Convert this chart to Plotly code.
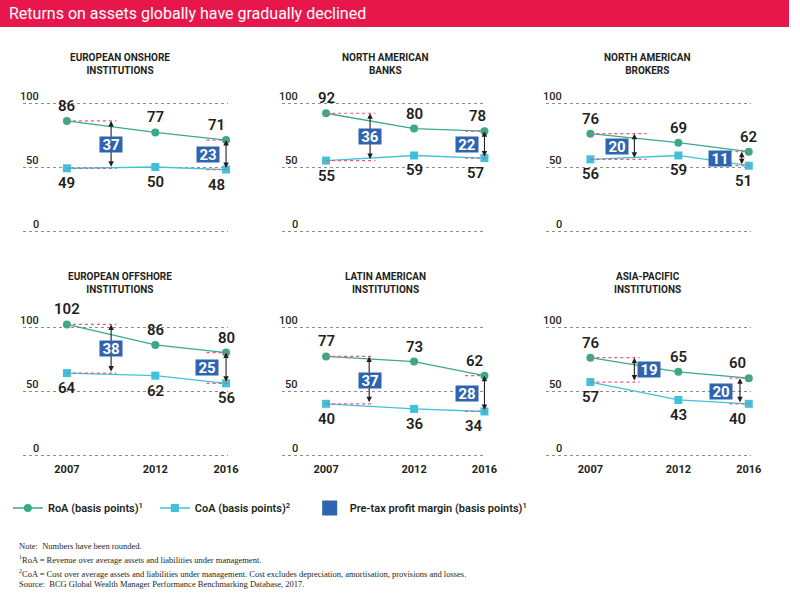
import plotly.graph_objects as go

W, H = 800, 596

# ---------------- data ----------------
YEARS = [2007, 2012, 2016]
PANEL_TITLES = [
    "EUROPEAN ONSHORE<br>INSTITUTIONS",
    "NORTH AMERICAN<br>BANKS",
    "NORTH AMERICAN<br>BROKERS",
    "EUROPEAN OFFSHORE<br>INSTITUTIONS",
    "LATIN AMERICAN<br>INSTITUTIONS",
    "ASIA-PACIFIC<br>INSTITUTIONS",
]
ROA = [
    [86, 77, 71],
    [92, 80, 78],
    [76, 69, 62],
    [102, 86, 80],
    [77, 73, 62],
    [76, 65, 60],
]
COA = [
    [49, 50, 48],
    [55, 59, 57],
    [56, 59, 51],
    [64, 62, 56],
    [40, 36, 34],
    [57, 43, 40],
]
MARGIN_2007 = [37, 36, 20, 38, 37, 19]
MARGIN_2016 = [23, 22, 11, 25, 28, 20]
Y_TICKS = [0, 50, 100]
Y_TICK_LABELS = ["0", "50", "100"]

TITLE = "Returns on assets globally have gradually declined"
LEGEND_NAMES = ["RoA (basis points)<sup>1</sup>", "CoA (basis points)<sup>2</sup>",
                "Pre-tax profit margin (basis points)<sup>1</sup>"]
FOOTNOTES = [
    "Note:  Numbers have been rounded.",
    "<sup>1</sup>RoA = Revenue over average assets and liabilities under management.",
    "<sup>2</sup>CoA = Cost over average assets and liabilities under management. Cost excludes depreciation, amortisation, provisions and losses.",
    "Source:  BCG Global Wealth Manager Performance Benchmarking Database, 2017.",
]

# ---------------- styles / positions ----------------
GREEN = "#3aa98a"
CYAN = "#3fc2d9"
BLUE = "#2f65b0"
RED = "#e8174b"
DASH = "#ec5a78"
DARK = "#231f20"
FONT = "Roboto"

COL_PX = [(23, 231), (286, 493), (554, 761)]
COL_CENTER = [122, 391, 657]
ROW_ZERO_PX = [231, 455]          # pixel of value 0
PX_PER_UNIT = 1.28
ROW_TITLE_PX = [64.5, 283]
XRANGE = [2004.5, 2016.1]

ARROW07_X = [2009.5, 2009.5, 2009.5, 2009.5, 2009.45, 2009.5]
BOX07_X = [2009.5, 2009.5, 2008.5, 2009.5, 2009.5, 2010.35]
DASH07_END = [2009.8, 2009.8, 2010.2, 2009.8, 2009.7, 2009.8]
ARROW16_X = [2016, 2016, 2015.6, 2016, 2016, 2015.5]
BOX16_X = [2015.0, 2015.0, 2014.35, 2014.9, 2015.0, 2014.45]
LBL16_SHIFT_ROA = [-10, -7, 0, 0, -10, -11]
LBL16_SHIFT_COA = [-10, -9, -5, 0, -10, -11]


def fy(px):
    return 1 - px / H


fig = go.Figure()
layout = dict(
    width=W, height=H, margin=dict(l=0, r=0, t=0, b=0),
    paper_bgcolor="white", plot_bgcolor="white",
    font=dict(family=FONT, color=DARK),
    showlegend=True,
)
annotations = []
shapes = []

# title bar
shapes.append(dict(type="rect", xref="paper", yref="paper", x0=0, x1=1, y0=fy(27), y1=1,
                   fillcolor=RED, line=dict(width=0), layer="below"))
annotations.append(dict(text=TITLE, xref="paper", yref="paper", x=7 / W, y=fy(13.5),
                        xanchor="left", yanchor="middle", showarrow=False,
                        font=dict(family=FONT, size=16, color="white")))

for i in range(6):
    row, col = divmod(i, 3)
    xn = "x" if i == 0 else f"x{i+1}"
    yn = "y" if i == 0 else f"y{i+1}"
    xa = "xaxis" if i == 0 else f"xaxis{i+1}"
    ya = "yaxis" if i == 0 else f"yaxis{i+1}"
    x0px, x1px = COL_PX[col]
    zero = ROW_ZERO_PX[row]
    ylo, yhi = -1, 112
    layout[xa] = dict(domain=[x0px / W, x1px / W], range=XRANGE, anchor=yn,
                      showgrid=False, zeroline=False, showline=False,
                      tickvals=YEARS, ticktext=[str(y) for y in YEARS], ticks="",
                      showticklabels=(row == 1), ticklabelstandoff=5,
                      tickfont=dict(family=FONT, size=11, color=DARK, weight="bold"),
                      fixedrange=True)
    layout[ya] = dict(domain=[fy(zero - ylo * PX_PER_UNIT), fy(zero - yhi * PX_PER_UNIT)],
                      range=[ylo, yhi], anchor=xn, tickvals=Y_TICKS, showticklabels=False,
                      showgrid=True, gridcolor="#8c8c8c", gridwidth=1, griddash="dot",
                      zeroline=False, showline=False, ticks="", fixedrange=True)

    for v, t in zip(Y_TICKS, Y_TICK_LABELS):
        annotations.append(dict(text=t, xref=f"{xn} domain", yref=yn, x=0, y=v,
                                xanchor="right", yanchor="bottom", xshift=18, yshift=-2,
                                showarrow=False,
                                font=dict(family=FONT, size=11, color=DARK, weight=500)))

    annotations.append(dict(text=PANEL_TITLES[i], xref="paper", yref="paper",
                            x=COL_CENTER[col] / W, y=fy(ROW_TITLE_PX[row]),
                            xanchor="center", yanchor="middle", showarrow=False,
                            font=dict(family=FONT, size=10, color=DARK, weight="bold")))

    fig.add_trace(go.Scatter(x=YEARS, y=ROA[i], xaxis=xn, yaxis=yn, mode="lines+markers",
                             line=dict(color=GREEN, width=1.3),
                             marker=dict(symbol="circle", size=8, color=GREEN),
                             cliponaxis=False, name=LEGEND_NAMES[0], legend="legend",
                             showlegend=(i == 0), hoverinfo="skip"))
    fig.add_trace(go.Scatter(x=YEARS, y=COA[i], xaxis=xn, yaxis=yn, mode="lines+markers",
                             line=dict(color=CYAN, width=1.3),
                             marker=dict(symbol="square", size=8, color=CYAN),
                             cliponaxis=False, name=LEGEND_NAMES[1], legend="legend2",
                             showlegend=(i == 0), hoverinfo="skip"))

    for k, yr in enumerate(YEARS):
        xs_r = LBL16_SHIFT_ROA[i] if k == 2 else 0
        xs_c = LBL16_SHIFT_COA[i] if k == 2 else 0
        annotations.append(dict(text=str(ROA[i][k]), xref=xn, yref=yn, x=yr, y=ROA[i][k],
                                xanchor="center", yanchor="middle", yshift=15, xshift=xs_r,
                                showarrow=False,
                                font=dict(family=FONT, size=15, color=DARK, weight=600)))
        annotations.append(dict(text=str(COA[i][k]), xref=xn, yref=yn, x=yr, y=COA[i][k],
                                xanchor="center", yanchor="middle", yshift=-15, xshift=xs_c,
                                showarrow=False,
                                font=dict(family=FONT, size=15, color=DARK, weight=600)))

    r07, c07 = ROA[i][0], COA[i][0]
    r16, c16 = ROA[i][2], COA[i][2]
    for yv in (r07, c07):
        shapes.append(dict(type="line", xref=xn, yref=yn, x0=YEARS[0], x1=DASH07_END[i],
                           y0=yv, y1=yv, line=dict(color=DASH, width=1.2, dash="dot")))
    for yv in (r16, c16):
        shapes.append(dict(type="line", xref=xn, yref=yn, x0=2014.9, x1=2016.15,
                           y0=yv, y1=yv, line=dict(color=DASH, width=1.2, dash="dot")))

    for ax_x, bx, top, bot, m in ((ARROW07_X[i], BOX07_X[i], r07, c07, MARGIN_2007[i]),
                                  (ARROW16_X[i], BOX16_X[i], r16, c16, MARGIN_2016[i])):
        annotations.append(dict(text="", xref=xn, yref=yn, axref=xn, ayref=yn,
                                x=ax_x, y=top, ax=ax_x, ay=bot, showarrow=True,
                                arrowhead=2, arrowsize=1, arrowside="end+start",
                                arrowwidth=1.1, arrowcolor=DARK, standoff=0, startstandoff=0))
        annotations.append(dict(text=f"<b>{m}</b>", xref=xn, yref=yn, x=bx, y=(top + bot) / 2,
                                showarrow=False, bgcolor=BLUE, width=22, height=15,
                                borderpad=0, xanchor="center", yanchor="middle",
                                font=dict(family=FONT, size=15, color="white")))

fig.add_trace(go.Scatter(x=[None], y=[None], mode="markers", name=LEGEND_NAMES[2],
                         marker=dict(symbol="square", size=15, color=BLUE),
                         legend="legend3", showlegend=True, hoverinfo="skip"))

leg_font = dict(family=FONT, size=11, color=DARK, weight=600)
ly = fy(508)
layout["legend"] = dict(x=8 / W, y=ly, xanchor="left", yanchor="middle", font=leg_font,
                        bgcolor="rgba(0,0,0,0)", itemwidth=30)
layout["legend2"] = dict(x=157 / W, y=ly, xanchor="left", yanchor="middle", font=leg_font,
                         bgcolor="rgba(0,0,0,0)", itemwidth=30)
layout["legend3"] = dict(x=314 / W, y=ly, xanchor="left", yanchor="middle", font=leg_font,
                         bgcolor="rgba(0,0,0,0)", itemwidth=30)

FOOT_Y = [546, 559, 573, 584]
for t, ypx in zip(FOOTNOTES, FOOT_Y):
    annotations.append(dict(text=t, xref="paper", yref="paper", x=17 / W, y=fy(ypx),
                            xanchor="left", yanchor="middle", showarrow=False,
                            font=dict(family="Liberation Serif", size=8.5, color=DARK)))

layout["annotations"] = annotations
layout["shapes"] = shapes
fig.update_layout(**layout)

POST = (
    "var h=document.documentElement,b=document.body;"
    "h.style.margin='0';h.style.padding='0';h.style.overflow='hidden';"
    "b.style.margin='0';b.style.padding='0';b.style.overflow='hidden';"
)
fig.write_html("out.html", config={"displayModeBar": False, "staticPlot": True},
               post_script=POST)
